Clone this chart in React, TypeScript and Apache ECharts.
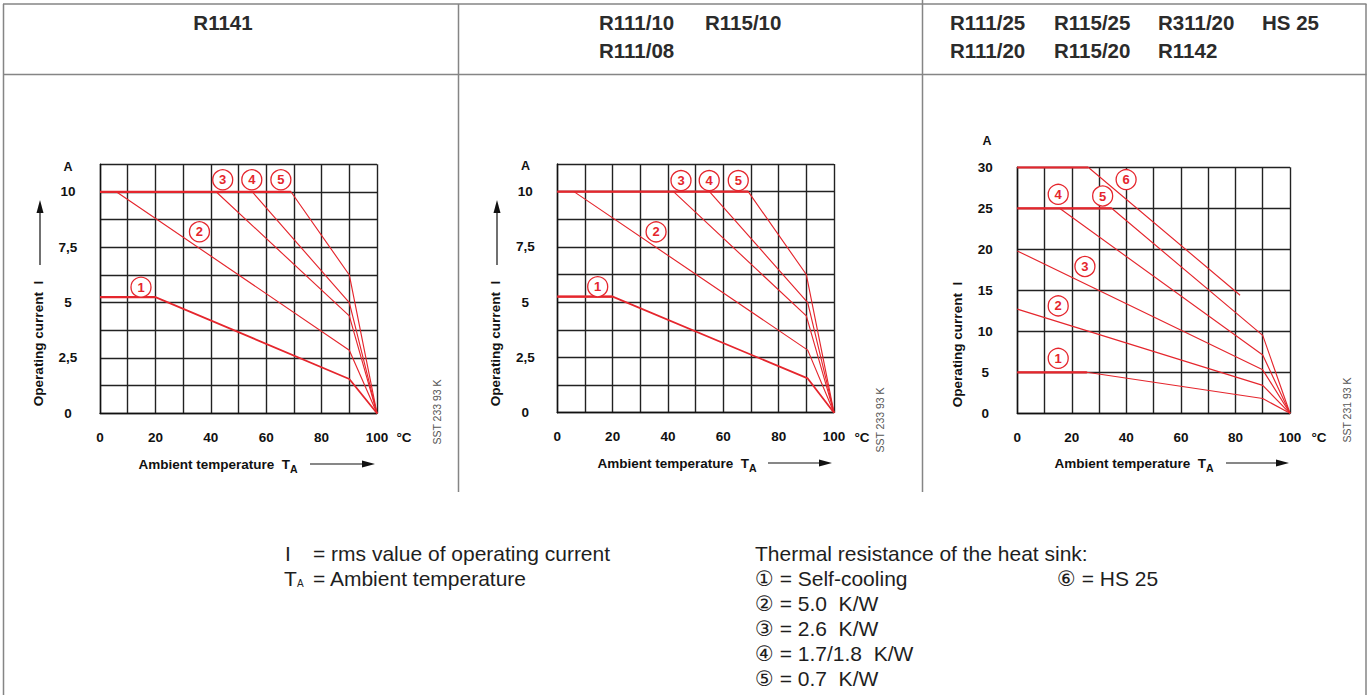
import React, { useEffect, useRef } from 'react';
import * as echarts from 'echarts';

// ---------- data ----------
const X_TICKS = [0, 20, 40, 60, 80, 100];
const Y_TICKS_10 = [0, 2.5, 5, 7.5, 10];
const Y_TICK_LABELS_10 = ['0', '2,5', '5', '7,5', '10'];
const Y_TICKS_30 = [0, 5, 10, 15, 20, 25, 30];
const Y_TICK_LABELS_30 = ['0', '5', '10', '15', '20', '25', '30'];

// R1141 : curves 1..5  [temperature °C, current A]
const R1141_C1 = [[0, 5.25], [20, 5.25], [90, 1.55], [100, 0]];
const R1141_C2 = [[6, 10], [90, 2.85], [100, 0]];
const R1141_C3 = [[42, 10], [90, 4.4], [100, 0]];
const R1141_C4 = [[55, 10], [90, 5.0], [100, 0]];
const R1141_C5 = [[0, 10], [69, 10], [90, 6.25], [100, 0]];
const R1141_MARKERS = [[14.8, 5.7, '1'], [35.9, 8.2, '2'], [44.3, 10.55, '3'], [54.8, 10.55, '4'], [65.3, 10.55, '5']];

// R111/10, R115/10, R111/08
const R111_C1 = [[0, 5.25], [20, 5.25], [90.5, 1.55], [100, 0]];
const R111_C2 = [[6, 10], [90.5, 2.83], [100, 0]];
const R111_C3 = [[42, 10], [90, 4.38], [100, 0]];
const R111_C4 = [[55, 10], [90.5, 4.98], [100, 0]];
const R111_C5 = [[0, 10], [69, 10], [90, 6.25], [100, 0]];
const R111_MARKERS = [[14.6, 5.7, '1'], [35.7, 8.18, '2'], [44.7, 10.5, '3'], [54.9, 10.5, '4'], [65.4, 10.5, '5']];

// R111/25 ... HS 25
const R25_C1 = [[0, 5], [25.5, 5], [90, 1.8], [100, 0]];
const R25_C2 = [[0, 12.7], [90, 3.4], [100, 0]];
const R25_C3 = [[0, 19.8], [90, 5.3], [100, 0]];
const R25_C4 = [[15.5, 25], [90, 7.1], [100, 0]];
const R25_C5 = [[0, 25], [34.6, 25], [90, 9.5], [100, 0]];
const R25_C6 = [[0, 30], [26, 30], [81.7, 14.4]];
const R25_MARKERS = [[15, 6.7, '1'], [15, 13.1, '2'], [24.8, 17.9, '3'], [15, 26.7, '4'], [31.3, 26.5, '5'], [39.9, 28.5, '6']];

const HEADER_1 = ['R1141'];
const HEADER_2_ROW1 = ['R111/10', 'R115/10'];
const HEADER_2_ROW2 = ['R111/08'];
const HEADER_3_ROW1 = ['R111/25', 'R115/25', 'R311/20', 'HS 25'];
const HEADER_3_ROW2 = ['R111/20', 'R115/20', 'R1142'];

const UNIT_Y = 'A';
const Y_TITLE = 'Operating current  I';
const X_TITLE = 'Ambient temperature  T';
const SST_CODES = ['SST 233 93 K', 'SST 233 93 K', 'SST 231 93 K'];

const LEGEND_LEFT = ['= rms value of operating current', '= Ambient temperature'];
const LEGEND_RIGHT = [
  'Thermal resistance of the heat sink:',
  '\u2460 = Self-cooling',
  '\u2461 = 5.0  K/W',
  '\u2462 = 2.6  K/W',
  '\u2463 = 1.7/1.8  K/W',
  '\u2464 = 0.7  K/W',
];
const LEGEND_EXTRA = '\u2465 = HS 25';

// ---------- styling / layout ----------
const RED = '#e5262d';
const FONT = '"Liberation Sans", Arial, Helvetica, "DejaVu Sans", sans-serif';
const GRID_COLOR = '#222';
const BORDER = '#858585';
const AXIS_FS = 13.5;

const PANELS = [
  {
    curves: [R1141_C1, R1141_C2, R1141_C3, R1141_C4, R1141_C5], markers: R1141_MARKERS,
    grid: { left: 100, top: 164.3, width: 277, height: 249 },
    yMax: 11.25, yInt: 1.25, ticks: Y_TICKS_10, tickLabels: Y_TICK_LABELS_10, unitX: 68, unitY: 166.5,
    yTitleX: 38.5, yTitleY: 343.5, yArrowX: 40, tRight: 290, xTitleY: 464, arrow: [310, 375],
    degX: 404, sstX: 437, sstY: 412, thickFirst: true,
  },
  {
    curves: [R111_C1, R111_C2, R111_C3, R111_C4, R111_C5], markers: R111_MARKERS,
    grid: { left: 557.3, top: 164, width: 276.7, height: 248.7 },
    yMax: 11.25, yInt: 1.25, ticks: Y_TICKS_10, tickLabels: Y_TICK_LABELS_10, unitX: 525.5, unitY: 166,
    yTitleX: 495.5, yTitleY: 343.5, yArrowX: 497, tRight: 749, xTitleY: 463, arrow: [768, 832],
    degX: 862, sstX: 880, sstY: 420, thickFirst: true,
  },
  {
    curves: [R25_C1, R25_C2, R25_C3, R25_C4, R25_C5, R25_C6], markers: R25_MARKERS,
    grid: { left: 1017.3, top: 167.3, width: 272.7, height: 246 },
    yMax: 30, yInt: 5, ticks: Y_TICKS_30, tickLabels: Y_TICK_LABELS_30, unitX: 987, unitY: 141,
    yTitleX: 957.5, yTitleY: 344.5, yArrowX: null, tRight: 1206, xTitleY: 463, arrow: [1226, 1289],
    degX: 1319, sstX: 1347, sstY: 410, thickFirst: false,
  },
];

function near(a: number, b: number) {
  return Math.abs(a - b) < 1e-6;
}

function buildOption() {
  const grids: any[] = [];
  const xAxes: any[] = [];
  const yAxes: any[] = [];
  const series: any[] = [];
  const g: any[] = [];

  PANELS.forEach((p, gi) => {
    grids.push({ ...p.grid });
    xAxes.push({
      gridIndex: gi, type: 'value', min: 0, max: 100, interval: 10,
      axisLine: { show: true, lineStyle: { color: '#111', width: 1.4 } },
      axisTick: { show: false },
      axisLabel: {
        formatter: (v: number) => (X_TICKS.some((t) => near(t, v)) ? String(v) : ''),
        fontSize: AXIS_FS, fontWeight: 'bold', color: '#111', margin: 17, fontFamily: FONT,
      },
      splitLine: { show: true, lineStyle: { color: GRID_COLOR, width: 1.4 } },
    });
    yAxes.push({
      gridIndex: gi, type: 'value', min: 0, max: p.yMax, interval: p.yInt,
      axisLine: { show: true, lineStyle: { color: '#111', width: 1.4 } },
      axisTick: { show: false },
      axisLabel: {
        formatter: (v: number) => {
          const i = p.ticks.findIndex((t) => near(t, v));
          return i >= 0 ? p.tickLabels[i] : '';
        },
        align: 'center', margin: 32,
        fontSize: AXIS_FS, fontWeight: 'bold', color: '#111', fontFamily: FONT,
      },
      splitLine: { show: true, lineStyle: { color: GRID_COLOR, width: 1.4 } },
    });

    p.curves.forEach((pts, ci) => {
      series.push({
        type: 'line', xAxisIndex: gi, yAxisIndex: gi, data: pts, symbol: 'none', silent: true, z: 3,
        lineStyle: { color: RED, width: ci === 0 && p.thickFirst ? 1.8 : 1.15 },
      });
      for (let k = 0; k < pts.length - 1; k++) {
        if (near(pts[k][1], pts[k + 1][1])) {
          series.push({
            type: 'line', xAxisIndex: gi, yAxisIndex: gi, data: [pts[k], pts[k + 1]], symbol: 'none', silent: true, z: 4,
            lineStyle: { color: RED, width: 2.3 },
          });
        }
      }
    });
    series.push({
      type: 'scatter', xAxisIndex: gi, yAxisIndex: gi, silent: true, z: 6,
      data: p.markers.map((m) => ({ value: [m[0], m[1]], name: m[2] })),
      symbol: 'circle', symbolSize: 20,
      itemStyle: { color: '#fff', borderColor: RED, borderWidth: 1.3, opacity: 1 },
      label: { show: true, position: 'inside', formatter: '{b}', color: RED, fontSize: 13, fontWeight: 'bold', fontFamily: FONT },
    });

    // unit "A"
    g.push({
      type: 'text', x: p.unitX, y: p.unitY, silent: true,
      style: { text: UNIT_Y, fontSize: 12.5, fontWeight: 'bold', fontFamily: FONT, fill: '#111', align: 'center', verticalAlign: 'middle' },
    });
    // axis titles
    g.push({
      type: 'text', x: p.yTitleX, y: p.yTitleY, rotation: Math.PI / 2, silent: true,
      style: { text: Y_TITLE, fontSize: AXIS_FS, fontWeight: 'bold', fontFamily: FONT, fill: '#111', align: 'center', verticalAlign: 'middle' },
    });
    if (p.yArrowX !== null) {
      const ax = p.yArrowX as number;
      g.push({ type: 'line', silent: true, shape: { x1: ax, y1: 265, x2: ax, y2: 210 }, style: { stroke: '#111', lineWidth: 1.2 } });
      g.push({ type: 'polygon', silent: true, shape: { points: [[ax, 200], [ax - 3.5, 213], [ax + 3.5, 213]] }, style: { fill: '#111' } });
    }
    g.push({
      type: 'text', x: p.tRight, y: p.xTitleY, silent: true,
      style: { text: X_TITLE, fontSize: AXIS_FS, fontWeight: 'bold', fontFamily: FONT, fill: '#111', align: 'right', verticalAlign: 'middle' },
    });
    g.push({
      type: 'text', x: p.tRight, y: p.xTitleY + 5, silent: true,
      style: { text: 'A', fontSize: 10.5, fontWeight: 'bold', fontFamily: FONT, fill: '#111', align: 'left', verticalAlign: 'middle' },
    });
    const [a1, a2] = p.arrow;
    g.push({ type: 'line', silent: true, shape: { x1: a1, y1: p.xTitleY, x2: a2 - 10, y2: p.xTitleY }, style: { stroke: '#111', lineWidth: 1.2 } });
    g.push({ type: 'polygon', silent: true, shape: { points: [[a2, p.xTitleY], [a2 - 13, p.xTitleY - 3.5], [a2 - 13, p.xTitleY + 3.5]] }, style: { fill: '#111' } });
    g.push({
      type: 'text', x: p.degX, y: 437, silent: true,
      style: { text: '\u00b0C', fontSize: AXIS_FS, fontWeight: 'bold', fontFamily: FONT, fill: '#111', align: 'center', verticalAlign: 'middle' },
    });
    g.push({
      type: 'text', x: p.sstX, y: p.sstY, rotation: Math.PI / 2, silent: true,
      style: { text: SST_CODES[gi], fontSize: 10.5, fontFamily: FONT, fill: '#555', align: 'center', verticalAlign: 'middle' },
    });
  });

  // table borders
  const line = (x1: number, y1: number, x2: number, y2: number) => ({
    type: 'line', silent: true, shape: { x1, y1, x2, y2 }, style: { stroke: BORDER, lineWidth: 1.5 },
  });
  g.push(line(3, 4, 1366.5, 4));
  g.push(line(3, 74.5, 1366.5, 74.5));
  g.push(line(3.5, 4, 3.5, 695));
  g.push(line(1366, 4, 1366, 695));
  g.push(line(458.5, 4, 458.5, 492));
  g.push(line(922.5, 0, 922.5, 492));

  // headers
  const head = (text: string, x: number, y: number, align = 'left') => ({
    type: 'text', x, y, silent: true,
    style: { text, fontSize: 20.5, fontWeight: 'bold', fontFamily: FONT, fill: '#2b2b2b', align, verticalAlign: 'middle' },
  });
  g.push(head(HEADER_1[0], 223, 22.5, 'center'));
  const h2x = [599, 705];
  HEADER_2_ROW1.forEach((t, i) => g.push(head(t, h2x[i], 22.5)));
  HEADER_2_ROW2.forEach((t, i) => g.push(head(t, h2x[i], 50.5)));
  const h3x = [950, 1054, 1158, 1262];
  HEADER_3_ROW1.forEach((t, i) => g.push(head(t, h3x[i], 22.5)));
  HEADER_3_ROW2.forEach((t, i) => g.push(head(t, h3x[i], 50.5)));

  // legend below
  const leg = (text: string, x: number, y: number, size = 21) => ({
    type: 'text', x, y, silent: true,
    style: { text, fontSize: size, fontFamily: FONT, fill: '#1e1e1e', align: 'left', verticalAlign: 'middle' },
  });
  g.push(leg('I', 285, 553.5));
  g.push(leg(LEGEND_LEFT[0], 313, 553.5));
  g.push(leg('T', 284, 578));
  g.push(leg('A', 297, 583, 10));
  g.push(leg(LEGEND_LEFT[1], 313, 578));
  LEGEND_RIGHT.forEach((t, i) => g.push(leg(t, 755, 553.5 + i * 24.9)));
  g.push(leg(LEGEND_EXTRA, 1057, 578));

  return {
    animation: false,
    backgroundColor: '#ffffff',
    grid: grids,
    xAxis: xAxes,
    yAxis: yAxes,
    series,
    graphic: { elements: g },
  };
}

export default function App() {
  const ref = useRef<HTMLDivElement>(null);
  useEffect(() => {
    if (!ref.current) return;
    const chart = echarts.init(ref.current, undefined, { renderer: 'svg', width: 1370, height: 695 });
    chart.setOption(buildOption() as any);
    return () => chart.dispose();
  }, []);
  return <div ref={ref} style={{ position: 'absolute', left: 0, top: 0, width: 1370, height: 695 }} />;
}
